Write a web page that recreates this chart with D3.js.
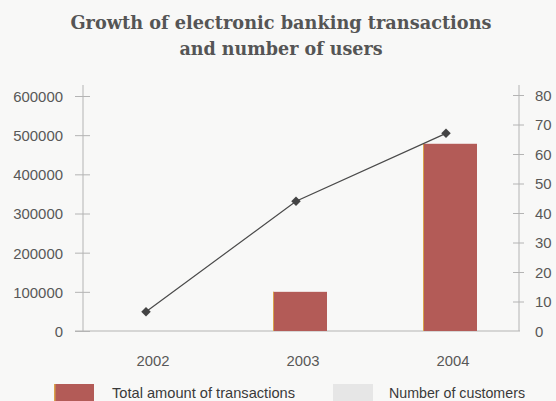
<!DOCTYPE html>
<html>
<head>
<meta charset="utf-8">
<script src="https://cdn.jsdelivr.net/npm/d3@7/dist/d3.min.js"></script>
<style>
  html, body { margin: 0; padding: 0; background: #f8f8f7; }
  svg { display: block; }
</style>
</head>
<body>
<svg id="chart" width="556" height="401"></svg>
<script>
// Yearly totals: transaction amount (left axis) and customers (right axis)
const years = ["2002", "2003", "2004"];
const transactions = [0, 100000, 478000];
const customers = [6.5, 44, 67];
const leftTicks = [0, 100000, 200000, 300000, 400000, 500000, 600000];
const rightTicks = [0, 10, 20, 30, 40, 50, 60, 70, 80];
const titleLines = ["Growth of electronic banking transactions", "and number of users"];
const legendLabels = ["Total amount of transactions", "Number of customers"];

const svg = d3.select("#chart");
const textColor = "#585858";
const axisColor = "#b4b4b4";
const barColor = "#b35b57";
const labelFont = "'Liberation Sans Narrow', 'Liberation Sans', sans-serif";

const x = d3.scaleBand().domain(years).range([75, 525]).padding(0);
const yL = d3.scaleLinear().domain([0, 600000]).range([331, 96]);
const yR = d3.scaleLinear().domain([0, 80]).range([331, 95]);
const barW = x.bandwidth() * 0.36;
const cx = d => x(d) + x.bandwidth() / 2;

// Title
svg.append("g").selectAll("text").data(titleLines).join("text")
  .attr("x", 281).attr("y", (d, i) => 29 + i * 26)
  .attr("text-anchor", "middle")
  .attr("font-family", "'DejaVu Serif', serif")
  .attr("font-weight", "bold")
  .attr("font-size", 18)
  .attr("fill", "#555")
  .attr("textLength", (d, i) => i === 0 ? 421 : 203)
  .attr("lengthAdjust", "spacingAndGlyphs")
  .text(d => d);

// Left axis
const leftAxis = d3.axisLeft(yL).tickValues(leftTicks).tickSize(0).tickPadding(0).tickFormat(d3.format("d"));
const gl = svg.append("g").attr("transform", "translate(83,0)").call(leftAxis);
gl.select(".domain").remove();
gl.selectAll(".tick text")
  .attr("x", -20).attr("dy", "0.35em")
  .attr("font-family", labelFont).attr("font-size", 15.5).attr("fill", textColor)
  .attr("textLength", d => String(d).length * 8.3).attr("lengthAdjust", "spacingAndGlyphs");
gl.selectAll(".tick").append("line").attr("x1", -8).attr("x2", 7).attr("stroke", axisColor);
svg.append("line").attr("x1", 83).attr("x2", 83).attr("y1", 85).attr("y2", 331).attr("stroke", axisColor);

// Right axis
const rightAxis = d3.axisRight(yR).tickValues(rightTicks).tickSize(0).tickPadding(0);
const gr = svg.append("g").attr("transform", "translate(519,0)").call(rightAxis);
gr.select(".domain").remove();
gr.selectAll(".tick text")
  .attr("x", 16).attr("dy", "0.35em")
  .attr("font-family", labelFont).attr("font-size", 15.5).attr("fill", textColor)
  .attr("textLength", d => String(d).length * 8.3).attr("lengthAdjust", "spacingAndGlyphs");
gr.selectAll(".tick").filter(d => d > 0).append("line").attr("x1", -6).attr("x2", 5).attr("stroke", axisColor);
svg.append("line").attr("x1", 519).attr("x2", 519).attr("y1", 85).attr("y2", 331).attr("stroke", axisColor);

// Baseline
svg.append("line").attr("x1", 75).attr("x2", 520).attr("y1", 331).attr("y2", 331).attr("stroke", axisColor).attr("stroke-width", 1.2);

// Bars
const barData = years.map((y, i) => ({ y, v: transactions[i] })).filter(d => d.v > 0);
const bars = svg.append("g");
bars.selectAll("rect.bar").data(barData).join("rect")
  .attr("class", "bar")
  .attr("x", d => cx(d.y) - barW / 2)
  .attr("y", d => yL(d.v))
  .attr("width", barW)
  .attr("height", d => yL(0) - yL(d.v))
  .attr("fill", barColor);
bars.selectAll("rect.edge").data(barData).join("rect")
  .attr("class", "edge")
  .attr("x", d => cx(d.y) - barW / 2)
  .attr("y", d => yL(d.v))
  .attr("width", 1)
  .attr("height", d => yL(0) - yL(d.v))
  .attr("fill", "#d9a24a");

// Customers line with diamond markers
const pts = years.map((y, i) => [cx(y) - 4, yR(customers[i])]);
svg.append("path")
  .attr("d", d3.line()(pts))
  .attr("fill", "none").attr("stroke", "#4a4a4a").attr("stroke-width", 1.2);
svg.append("g").selectAll("path").data(pts).join("path")
  .attr("transform", d => `translate(${d[0]},${d[1]}) rotate(45)`)
  .attr("d", d3.symbol().type(d3.symbolSquare).size(45)())
  .attr("fill", "#444");

// Category labels
svg.append("g").selectAll("text").data(years).join("text")
  .attr("x", d => cx(d) + 3).attr("y", 366)
  .attr("text-anchor", "middle")
  .attr("font-family", labelFont).attr("font-size", 15.5).attr("fill", textColor)
  .attr("textLength", 33).attr("lengthAdjust", "spacingAndGlyphs")
  .text(d => d);

// Legend
const legend = svg.append("g");
legend.append("rect").attr("x", 54).attr("y", 384).attr("width", 40).attr("height", 20).attr("fill", barColor);
legend.append("rect").attr("x", 54).attr("y", 384).attr("width", 1.5).attr("height", 20).attr("fill", "#d9a24a");
legend.append("rect").attr("x", 333).attr("y", 384).attr("width", 40).attr("height", 20).attr("fill", "#e6e6e6");
legend.selectAll("text").data(legendLabels).join("text")
  .attr("x", (d, i) => i === 0 ? 112 : 389).attr("y", 398)
  .attr("font-family", labelFont).attr("font-size", 15).attr("fill", "#3a3a3a")
  .attr("textLength", (d, i) => i === 0 ? 183 : 136).attr("lengthAdjust", "spacingAndGlyphs")
  .text(d => d);
</script>
</body>
</html>
